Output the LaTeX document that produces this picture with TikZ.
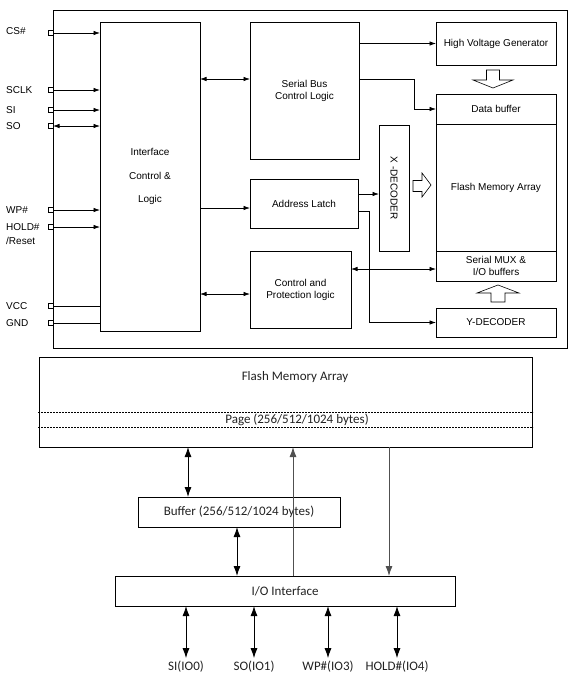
\documentclass[tikz,border=0pt]{standalone}
\usepackage{fontspec}
\setmainfont{Liberation Sans}
\newfontfamily\calfont{Carlito}
\usetikzlibrary{arrows.meta}
\definecolor{linegray}{HTML}{505050}
\definecolor{txtgray}{HTML}{222222}
\begin{document}
\begin{tikzpicture}[x=1pt,y=-1pt,
  box/.style={draw, line width=0.7pt, inner sep=0pt, outer sep=0pt, align=center, font=\fontsize{10}{12}\selectfont},
  pinsq/.style={draw, fill=white, line width=0.6pt, minimum size=5pt, inner sep=0pt, outer sep=0pt},
  pinlbl/.style={anchor=west, inner sep=0pt, font=\fontsize{10}{12}\selectfont},
  arr/.style={line width=0.7pt, -{Latex[length=6.5pt,width=4.5pt]}},
  darr/.style={line width=0.7pt, {Latex[length=6.5pt,width=4.5pt]}-{Latex[length=6.5pt,width=4.5pt]}},
  hollow/.style={draw, line width=0.6pt, fill=white, line join=miter},
  bbox/.style={draw, line width=0.8pt, inner sep=0pt, outer sep=0pt, text=txtgray, font=\calfont\fontsize{13}{15}\selectfont},
  btxt/.style={inner sep=0pt, text=txtgray, font=\calfont\fontsize{13}{15}\selectfont},
  barr/.style={line width=0.9pt, -{Latex[length=10pt,width=7pt]}},
  bdarr/.style={line width=0.9pt, {Latex[length=10pt,width=7pt]}-{Latex[length=10pt,width=7pt]}},
  pagedash/.style={line width=0.8pt, dash pattern=on 2pt off 1pt}
]
\useasboundingbox (0,0) rectangle (577,685);

% ---------- top block diagram ----------
\node[draw, line width=0.9pt, minimum width=514pt, minimum height=338pt, inner sep=0pt] (frame) at (310,179) {};

\node[box, minimum width=100pt, minimum height=309pt, font=\fontsize{10}{23.5}\selectfont] (iface) at (150,176.5) {Interface\\Control \&\\Logic};
\node[box, minimum width=109pt, minimum height=137pt] (sbus) at (304.5,90.5) {Serial Bus\\Control Logic};
\node[box, minimum width=108pt, minimum height=49pt] (alatch) at (304,203.5) {Address Latch};
\node[box, minimum width=101pt, minimum height=77pt] (ctrl) at (300.5,289.5) {Control and\\Protection logic};
\node[box, minimum width=120pt, minimum height=43pt] (hvg) at (496,43.5) {High Voltage Generator};
\node[box, minimum width=120pt, minimum height=30pt] (dbuf) at (496,109) {Data buffer};
\node[box, minimum width=120pt, minimum height=127pt] (flash) at (496,187.5) {Flash Memory Array};
\node[box, minimum width=120pt, minimum height=30pt] (smux) at (496,266) {Serial MUX \&\\I/O buffers};
\node[box, minimum width=30pt, minimum height=126pt] (xdec) at (394,188) {};
\node[rotate=-90, inner sep=0pt, font=\fontsize{10}{12}\selectfont] (xdect) at (xdec.center) {X -DECODER};
\node[box, minimum width=120pt, minimum height=29pt] (ydec) at (496,322.5) {Y-DECODER};

% pins
\node[pinsq] (pCS) at (50.5,33) {};
\node[pinsq] (pSCLK) at (50.5,90) {};
\node[pinsq] (pSI) at (50.5,110) {};
\node[pinsq] (pSO) at (50.5,126) {};
\node[pinsq] (pWP) at (50.5,210) {};
\node[pinsq] (pHOLD) at (50.5,227) {};
\node[pinsq] (pVCC) at (50.5,306) {};
\node[pinsq] (pGND) at (50.5,323) {};

\node[pinlbl] (lCS) at (6,31.5) {CS\#};
\node[pinlbl] (lSCLK) at (6,90) {SCLK};
\node[pinlbl] (lSI) at (6,110) {SI};
\node[pinlbl] (lSO) at (6,126.5) {SO};
\node[pinlbl] (lWP) at (6,210) {WP\#};
\node[pinlbl] (lHOLD) at (6,227) {HOLD\#};
\node[pinlbl] (lRST) at (6,241) {/Reset};
\node[pinlbl] (lVCC) at (6,306) {VCC};
\node[pinlbl] (lGND) at (6,323) {GND};

\draw[arr] (pCS.east) -- (iface.west |- pCS);
\draw[arr] (pSCLK.east) -- (iface.west |- pSCLK);
\draw[arr] (pSI.east) -- (iface.west |- pSI);
\draw[darr] (pSO.east) -- (iface.west |- pSO);
\draw[arr] (pWP.east) -- (iface.west |- pWP);
\draw[arr] (pHOLD.east) -- (iface.west |- pHOLD);
\draw[line width=0.7pt] (pVCC.east) -- (iface.west |- pVCC);
\draw[line width=0.7pt] (pGND.east) -- (iface.west |- pGND);

% internal connectors
\draw[darr] (iface.east |- 0,79) -- (sbus.west |- 0,79);
\draw[arr] (sbus.east |- hvg.west) -- (hvg.west);
\draw[arr] (sbus.east |- 0,79) -- (414,79) |- (dbuf.west);
\draw[arr] (iface.east |- 0,208) -- (alatch.west |- 0,208);
\draw[arr] (alatch.east |- 0,194) -- (xdec.west |- 0,194);
\draw[arr] (alatch.east |- 0,211) -- (369,211) |- (ydec.west);
\draw[darr] (iface.east |- 0,294) -- (ctrl.west |- 0,294);
\draw[darr] (ctrl.east |- 0,269) -- (smux.west |- 0,269);

% hollow arrows
\draw[hollow] (486.5,70) -- (499.5,70) -- (499.5,80) -- (513,80) -- (493,88) -- (473,80) -- (486.5,80) -- cycle;
\draw[hollow] (413,180.5) -- (422,180.5) -- (422,173) -- (431,185) -- (422,197) -- (422,191.5) -- (413,191.5) -- cycle;
\draw[hollow] (491,302) -- (505,302) -- (505,293) -- (519,293) -- (498,285) -- (477,293) -- (491,293) -- cycle;

% ---------- bottom diagram ----------
\node[bbox, minimum width=493pt, minimum height=90pt] (flash2) at (285.5,402) {};
\node[btxt] (ftitle) at (295,377) {Flash Memory Array};
\node[btxt] (ptitle) at (297,420) {Page (256/512/1024 bytes)};
\draw[pagedash] (flash2.west |- 0,412) ++(-1,0) -- (533,412);
\draw[pagedash] (flash2.west |- 0,427) ++(-1,0) -- (533,427);

\node[bbox, minimum width=202pt, minimum height=30pt] (buf) at (239,512) {Buffer (256/512/1024 bytes)};
\node[bbox, minimum width=340pt, minimum height=30pt] (io) at (285,591) {I/O Interface};

\draw[bdarr] (flash2.south -| 188,0) -- (buf.north -| 188,0);
\draw[barr, linegray] (io.north -| 293,0) -- (flash2.south -| 293,0);
\draw[barr, linegray] (flash2.south -| 389,0) -- (io.north -| 389,0);
\draw[bdarr] (buf.south -| 237,0) -- (io.north -| 237,0);

\node[btxt, inner sep=3pt] (bSI) at (186,667) {SI(IO0)};
\node[btxt, inner sep=3pt] (bSO) at (254,667) {SO(IO1)};
\node[btxt, inner sep=3pt] (bWP) at (328,667) {WP\#(IO3)};
\node[btxt, inner sep=3pt] (bHOLD) at (397,667) {HOLD\#(IO4)};
\draw[bdarr] (io.south -| bSI) -- (bSI.north);
\draw[bdarr] (io.south -| bSO) -- (bSO.north);
\draw[bdarr] (io.south -| bWP) -- (bWP.north);
\draw[bdarr] (io.south -| bHOLD) -- (bHOLD.north);
\end{tikzpicture}
\end{document}
